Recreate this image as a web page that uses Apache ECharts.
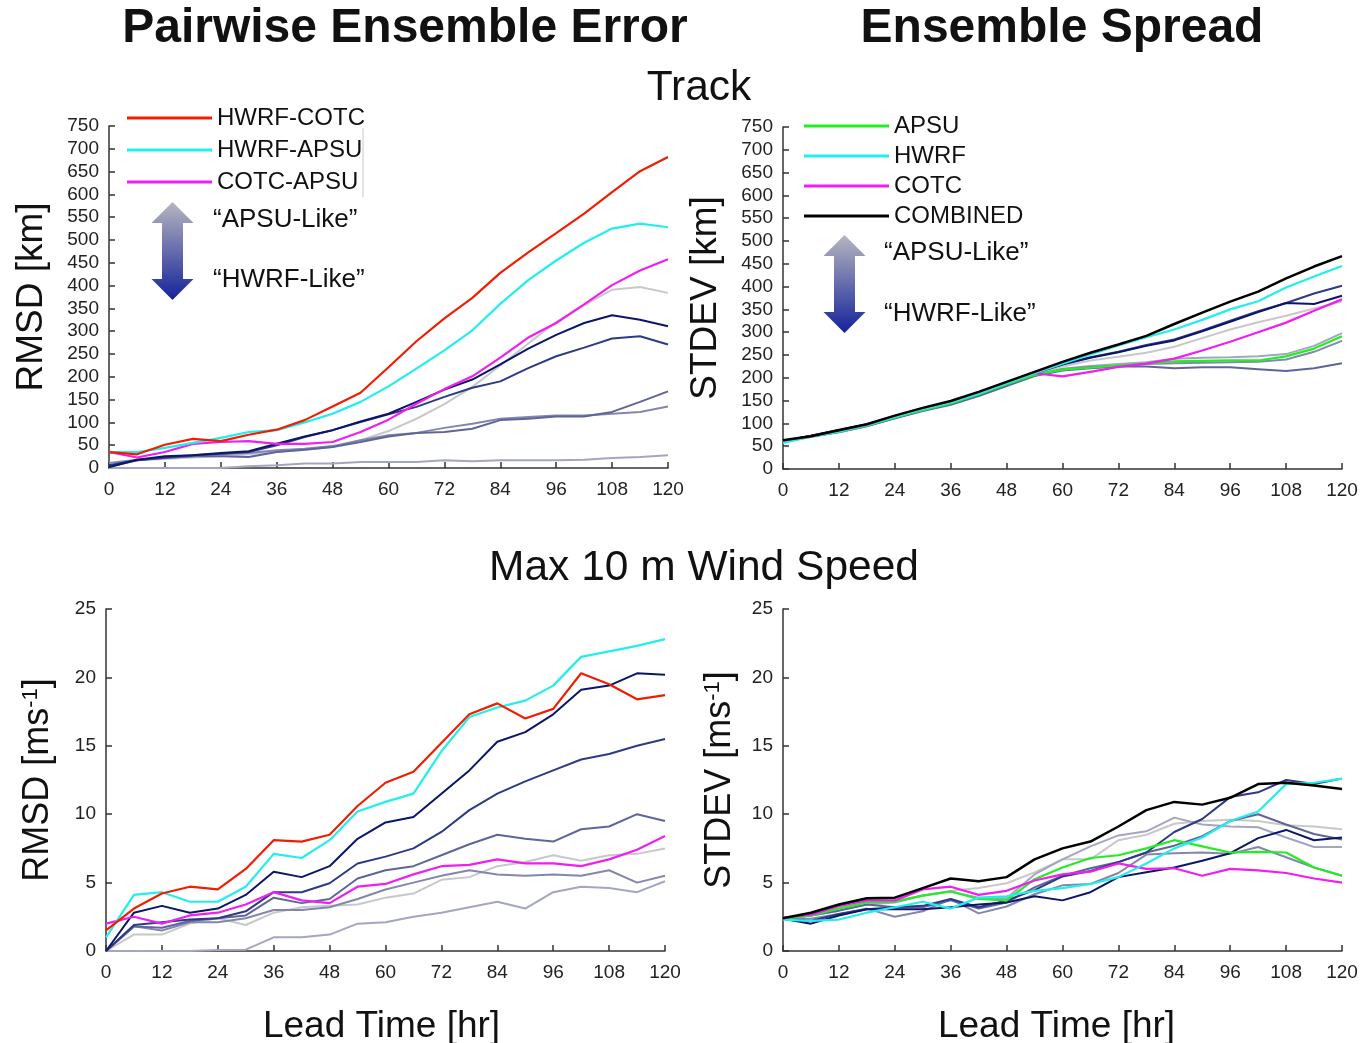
<!DOCTYPE html>
<html>
<head>
<meta charset="utf-8">
<title>Pairwise Ensemble Error / Ensemble Spread</title>
<script src="https://cdn.jsdelivr.net/npm/echarts@6.0.0/dist/echarts.min.js"></script>
<style>
  html, body { margin: 0; padding: 0; background: #fff; }
  #chart { width: 1367px; height: 1043px; }
</style>
</head>
<body>
<div id="chart"></div>
<script>
// lead times (hr)
var hours = [0, 6, 12, 18, 24, 30, 36, 42, 48, 54, 60, 66, 72, 78, 84, 90, 96, 102, 108, 114, 120];

// ---- Track, pairwise RMSD [km]
var trackErrHwrfCotc = [35, 30, 51, 64, 59, 73, 84, 105, 135, 165, 221, 278, 328, 373, 428, 473, 515, 558, 605, 651, 682];
var trackErrHwrfApsu = [35, 35, 44, 55, 66, 79, 83, 100, 119, 145, 179, 218, 258, 302, 360, 412, 455, 494, 525, 536, 528];
var trackErrCotcApsu = [35, 23, 35, 53, 57, 59, 53, 53, 57, 79, 106, 141, 173, 201, 242, 286, 318, 359, 401, 433, 458];
var trackErrMix1 = [2, 17, 20, 23, 26, 30, 35, 40, 46, 61, 81, 108, 140, 178, 225, 273, 320, 357, 391, 397, 384];
var trackErrMix2 = [0, 0, 0, 0, 0, 4, 6, 10, 10, 13, 13, 13, 17, 15, 17, 17, 17, 18, 22, 24, 28];
var trackErrMix3 = [11, 18, 22, 26, 30, 33, 39, 42, 48, 61, 72, 77, 88, 97, 108, 112, 115, 115, 119, 123, 135];
var trackErrMix4 = [2, 17, 22, 26, 26, 24, 35, 40, 46, 57, 69, 77, 79, 86, 105, 108, 113, 113, 123, 145, 168];
var trackErrMix5 = [6, 17, 23, 28, 31, 35, 50, 68, 83, 101, 118, 134, 156, 176, 190, 219, 245, 264, 284, 289, 271];
var trackErrMix6 = [2, 18, 26, 28, 33, 37, 53, 69, 83, 102, 119, 145, 172, 194, 227, 262, 292, 318, 335, 325, 311];

// ---- Track, spread STDEV [km]
var trackSprApsu = [60, 71, 82, 95, 113, 129, 144, 164, 186, 206, 218, 222, 227, 231, 236, 237, 238, 238, 247, 264, 291];
var trackSprHwrf = [57, 71, 82, 96, 114, 131, 146, 165, 188, 210, 231, 251, 271, 289, 306, 327, 350, 368, 398, 422, 445];
var trackSprCotc = [62, 72, 83, 96, 115, 131, 147, 168, 190, 210, 203, 213, 224, 231, 242, 260, 279, 300, 321, 347, 372];
var trackSprCombined = [63, 72, 85, 98, 117, 134, 149, 169, 191, 213, 235, 255, 273, 292, 318, 343, 367, 389, 418, 444, 467];
var trackSprMix1 = [60, 70, 80, 93, 111, 128, 143, 163, 186, 208, 225, 238, 246, 255, 268, 287, 306, 322, 336, 352, 367];
var trackSprMix2 = [60, 71, 81, 94, 112, 129, 144, 164, 186, 207, 220, 226, 230, 234, 242, 244, 245, 247, 252, 270, 298];
var trackSprMix3 = [60, 71, 81, 94, 112, 128, 143, 163, 185, 206, 219, 224, 226, 230, 232, 233, 234, 235, 240, 257, 281];
var trackSprMix4 = [60, 71, 81, 94, 111, 127, 141, 160, 182, 204, 216, 221, 225, 225, 221, 223, 223, 219, 215, 221, 232];
var trackSprMix5 = [61, 73, 86, 98, 116, 132, 147, 167, 189, 211, 230, 245, 257, 272, 284, 304, 325, 346, 364, 385, 402];
var trackSprMix6 = [61, 73, 85, 97, 115, 131, 146, 166, 188, 210, 229, 244, 256, 270, 282, 302, 323, 344, 364, 362, 380];

// ---- Max 10 m wind, pairwise RMSD [m/s]
var windErrHwrfCotc = [1.5, 3.1, 4.2, 4.7, 4.5, 6.0, 8.1, 8.0, 8.5, 10.6, 12.3, 13.1, 15.2, 17.3, 18.1, 17.0, 17.7, 20.3, 19.5, 18.4, 18.7];
var windErrHwrfApsu = [1.0, 4.1, 4.3, 3.6, 3.6, 4.7, 7.1, 6.8, 8.1, 10.2, 10.9, 11.5, 14.6, 17.1, 17.8, 18.3, 19.4, 21.5, 21.9, 22.3, 22.8];
var windErrCotcApsu = [2.0, 2.5, 2.0, 2.6, 2.8, 3.4, 4.3, 3.7, 3.5, 4.7, 4.9, 5.6, 6.2, 6.3, 6.7, 6.4, 6.4, 6.2, 6.7, 7.4, 8.4];
var windErrMix1 = [0, 1.2, 1.2, 2.0, 2.4, 1.9, 2.8, 3.2, 3.3, 3.4, 3.9, 4.2, 5.2, 5.4, 6.2, 6.5, 7.0, 6.6, 7.0, 7.1, 7.5];
var windErrMix2 = [0, 0, 0, 0, 0.07, 0.1, 1.0, 1.0, 1.2, 2.0, 2.1, 2.5, 2.8, 3.2, 3.6, 3.1, 4.3, 4.7, 4.6, 4.3, 5.1];
var windErrMix3 = [0, 1.8, 1.5, 2.1, 2.1, 2.4, 3.0, 3.0, 3.2, 3.8, 4.5, 5.0, 5.5, 5.9, 5.6, 5.5, 5.6, 5.5, 5.9, 5.0, 5.5];
var windErrMix4 = [0, 1.8, 1.7, 2.2, 2.4, 2.6, 3.9, 3.5, 3.8, 5.3, 5.9, 6.2, 7.0, 7.8, 8.5, 8.2, 8.0, 8.9, 9.1, 10.0, 9.5];
var windErrMix5 = [0, 1.9, 2.1, 2.3, 2.4, 2.9, 4.3, 4.3, 4.95, 6.4, 6.9, 7.5, 8.7, 10.3, 11.5, 12.4, 13.2, 14.0, 14.4, 15.0, 15.5];
var windErrMix6 = [0, 2.8, 3.3, 2.8, 3.1, 4.1, 5.8, 5.4, 6.2, 8.2, 9.4, 9.8, 11.5, 13.2, 15.3, 16.0, 17.3, 19.1, 19.4, 20.3, 20.2];

// ---- Max 10 m wind, spread STDEV [m/s]
var windSprApsu = [2.35, 2.6, 3.1, 3.55, 3.6, 4.05, 4.35, 3.8, 3.7, 5.25, 6.1, 6.8, 7.0, 7.5, 8.1, 7.65, 7.2, 7.25, 7.2, 6.1, 5.5];
var windSprHwrf = [2.3, 2.2, 2.3, 2.8, 3.2, 3.6, 3.1, 3.9, 4.0, 4.4, 4.6, 4.9, 5.4, 6.4, 7.5, 8.3, 9.5, 10.2, 12.2, 12.3, 12.6];
var windSprCotc = [2.45, 2.65, 3.3, 3.7, 3.7, 4.5, 4.7, 4.1, 4.4, 5.15, 5.6, 5.8, 6.4, 6.0, 6.05, 5.5, 6.0, 5.9, 5.7, 5.3, 5.0];
var windSprCombined = [2.4, 2.8, 3.4, 3.85, 3.9, 4.6, 5.3, 5.1, 5.4, 6.7, 7.5, 8.0, 9.1, 10.3, 10.9, 10.7, 11.2, 12.2, 12.3, 12.1, 11.85];
var windSprMix1 = [2.35, 2.7, 3.2, 3.7, 3.7, 4.05, 4.4, 4.6, 4.95, 5.75, 6.7, 6.7, 8.1, 8.5, 9.3, 9.5, 9.6, 9.5, 9.2, 9.1, 8.9];
var windSprMix2 = [2.35, 2.6, 2.95, 3.4, 3.55, 4.05, 4.35, 3.9, 3.85, 5.6, 6.7, 7.65, 8.45, 8.75, 9.75, 9.25, 9.1, 9.05, 8.3, 7.6, 7.6];
var windSprMix3 = [2.35, 2.35, 2.7, 3.1, 2.5, 2.9, 3.8, 2.75, 3.25, 4.15, 4.8, 4.9, 5.7, 7.05, 7.15, 7.2, 7.1, 7.6, 6.85, 6.1, 5.5];
var windSprMix4 = [2.35, 2.6, 2.95, 3.4, 3.2, 3.2, 3.7, 3.1, 3.55, 4.65, 5.5, 6.05, 6.5, 7.2, 7.7, 8.4, 9.5, 10.0, 9.25, 8.55, 8.15];
var windSprMix5 = [2.35, 2.2, 2.7, 3.05, 3.2, 3.3, 3.8, 3.2, 3.7, 4.45, 5.45, 5.85, 6.5, 7.2, 8.7, 9.65, 11.25, 11.6, 12.5, 12.2, 12.6];
var windSprMix6 = [2.35, 2.0, 2.6, 3.05, 3.05, 3.05, 3.2, 3.4, 3.55, 4.0, 3.7, 4.3, 5.4, 5.75, 6.1, 6.6, 7.15, 8.25, 8.85, 8.1, 8.3];

// shades from "APSU-like" (light grey) to "HWRF-like" (navy)
var mixColors = ["#c8c8cb", "#a3a6c0", "#8387ad", "#5f659b", "#2e3a86", "#0c1668"];

var FONT = "'Liberation Sans', Arial, Helvetica, sans-serif";

var dom = document.getElementById("chart");
var chart = echarts.init(dom, null, { renderer: "canvas" });

function pairs(vals) {
  return vals.map(function (v, i) {
    return [hours[i], v];
  });
}

function lineSeries(name, vals, color, idx, width) {
  return {
    name: name,
    type: "line",
    xAxisIndex: idx,
    yAxisIndex: idx,
    data: pairs(vals),
    symbol: "none",
    showSymbol: false,
    silent: true,
    lineStyle: { color: color, width: width || 2 },
    itemStyle: { color: color },
  };
}

function mixSeries(list, idx) {
  return list.map(function (vals, k) {
    return lineSeries("mix" + (k + 1), vals, mixColors[k], idx, 2);
  });
}

// panel boxes (outerBoundsMode none: keep them fixed even when names spill)
var grids = [
  { left: 109, top: 126, width: 559, height: 342, outerBoundsMode: "none" },
  { left: 783, top: 127, width: 559, height: 342, outerBoundsMode: "none" },
  { left: 106, top: 609, width: 559, height: 342, outerBoundsMode: "none" },
  { left: 783, top: 609, width: 559, height: 342, outerBoundsMode: "none" },
];

function xAxisFor(idx, withName, shift) {
  return {
    type: "value",
    gridIndex: idx,
    min: 0,
    max: 120,
    interval: 12,
    name: withName ? "Lead Time [hr]" : "",
    nameLocation: "middle",
    nameGap: 57,
    nameTextStyle: {
      fontSize: 37,
      color: "#111",
      fontFamily: FONT,
      padding: [0, shift || 0, 0, 0],
    },
    axisLine: { show: true, lineStyle: { color: "#333", width: 1.5 } },
    axisTick: { show: true, inside: true, length: 6, lineStyle: { color: "#333", width: 1.5 } },
    axisLabel: { fontSize: 19, color: "#222", margin: 12, fontFamily: FONT },
    splitLine: { show: false },
  };
}

function yAxisFor(idx, max, interval, name, gap, rich) {
  var ax = {
    type: "value",
    gridIndex: idx,
    min: 0,
    max: max,
    interval: interval,
    name: name,
    nameLocation: "middle",
    nameGap: gap,
    nameTextStyle: { fontSize: 37, color: "#111", fontFamily: FONT },
    axisLine: { show: true, lineStyle: { color: "#333", width: 1.5 } },
    axisTick: { show: true, inside: true, length: 6, lineStyle: { color: "#333", width: 1.5 } },
    axisLabel: { fontSize: 19, color: "#222", margin: 10, fontFamily: FONT },
    splitLine: { show: false },
  };
  if (rich) {
    ax.nameTextStyle.rich = {
      n: { fontSize: 36, color: "#111", fontFamily: FONT },
      s: { fontSize: 22, color: "#111", fontFamily: FONT, verticalAlign: "top" },
    };
  }
  return ax;
}

var series = []
  .concat(mixSeries([trackErrMix1, trackErrMix2, trackErrMix3, trackErrMix4, trackErrMix5, trackErrMix6], 0))
  .concat([
    lineSeries("COTC-APSU", trackErrCotcApsu, "#f01ef0", 0, 2.2),
    lineSeries("HWRF-APSU", trackErrHwrfApsu, "#22eeee", 0, 2.2),
    lineSeries("HWRF-COTC", trackErrHwrfCotc, "#f01e00", 0, 2.2),
  ])
  .concat(mixSeries([trackSprMix1, trackSprMix2, trackSprMix3, trackSprMix4, trackSprMix5, trackSprMix6], 1))
  .concat([
    lineSeries("APSU", trackSprApsu, "#22ee22", 1, 2.2),
    lineSeries("COTC", trackSprCotc, "#f01ef0", 1, 2.2),
    lineSeries("HWRF", trackSprHwrf, "#22eeee", 1, 2.2),
    lineSeries("COMBINED", trackSprCombined, "#000000", 1, 2.5),
  ])
  .concat(mixSeries([windErrMix1, windErrMix2, windErrMix3, windErrMix4, windErrMix5, windErrMix6], 2))
  .concat([
    lineSeries("COTC-APSU", windErrCotcApsu, "#f01ef0", 2, 2.2),
    lineSeries("HWRF-APSU", windErrHwrfApsu, "#22eeee", 2, 2.2),
    lineSeries("HWRF-COTC", windErrHwrfCotc, "#f01e00", 2, 2.2),
  ])
  .concat(mixSeries([windSprMix1, windSprMix2, windSprMix3, windSprMix4, windSprMix5, windSprMix6], 3))
  .concat([
    lineSeries("APSU", windSprApsu, "#22ee22", 3, 2.2),
    lineSeries("COTC", windSprCotc, "#f01ef0", 3, 2.2),
    lineSeries("HWRF", windSprHwrf, "#22eeee", 3, 2.2),
    lineSeries("COMBINED", windSprCombined, "#000000", 3, 2.5),
  ]);

function arrowPoints(cx, top, bottom) {
  // double-headed vertical arrow
  var hw = 21, sw = 10.5, hh = 21;
  return [
    [cx, top], [cx + hw, top + hh], [cx + sw, top + hh],
    [cx + sw, bottom - hh], [cx + hw, bottom - hh], [cx, bottom],
    [cx - hw, bottom - hh], [cx - sw, bottom - hh], [cx - sw, top + hh],
    [cx - hw, top + hh],
  ];
}

function arrowGraphic(cx, top, bottom) {
  return {
    type: "polygon",
    shape: { points: arrowPoints(cx, top, bottom) },
    style: {
      fill: new echarts.graphic.LinearGradient(0, 0, 0, 1, [
        { offset: 0, color: "#b6b6bf" },
        { offset: 1, color: "#14229a" },
      ]),
    },
    silent: true,
  };
}

function textGraphic(text, x, y, size, weight, align) {
  return {
    type: "text",
    x: x,
    y: y,
    silent: true,
    style: {
      text: text,
      fill: "#111",
      font: (weight || "normal") + " " + size + "px " + FONT,
      align: align || "center",
      textAlign: align || "center",
      verticalAlign: "middle",
      textVerticalAlign: "middle",
    },
  };
}

function legendFor(names, left, top, gap) {
  return {
    data: names,
    orient: "vertical",
    left: left,
    top: top,
    padding: 0,
    icon: "rect",
    itemWidth: 85,
    itemHeight: 3,
    itemGap: gap,
    selectedMode: false,
    textStyle: { fontSize: 24, color: "#111", fontFamily: FONT, lineHeight: 22 },
  };
}

var option = {
  backgroundColor: "#ffffff",
  animation: false,
  textStyle: { fontFamily: FONT },
  grid: grids,
  xAxis: [xAxisFor(0, false), xAxisFor(1, false), xAxisFor(2, true, 8), xAxisFor(3, true, 12)],
  yAxis: [
    yAxisFor(0, 750, 50, "RMSD [km]", 59),
    yAxisFor(1, 750, 50, "STDEV [km]", 59),
    yAxisFor(2, 25, 5, "{n|RMSD [ms}{s|-1}{n|]}", 50, true),
    yAxisFor(3, 25, 5, "{n|STDEV [ms}{s|-1}{n|]}", 45, true),
  ],
  legend: [
    legendFor(["HWRF-COTC", "HWRF-APSU", "COTC-APSU"], 127, 106, 8),
    legendFor(["APSU", "HWRF", "COTC", "COMBINED"], 804, 114, 6),
  ],
  graphic: {
    elements: [
      textGraphic("Pairwise Ensemble Error", 405, 29, 48, "bold"),
      textGraphic("Ensemble Spread", 1062, 29, 48, "bold"),
      textGraphic("Track", 699, 88, 42.5),
      textGraphic("Max 10 m Wind Speed", 704, 568, 42.5),
      {
        type: "line",
        shape: { x1: 363, y1: 128, x2: 363, y2: 197 },
        style: { stroke: "#c8c8c8", lineWidth: 1 },
        silent: true,
      },
      arrowGraphic(172.5, 202, 300),
      textGraphic("\u201cAPSU-Like\u201d", 213, 220, 26, "normal", "left"),
      textGraphic("\u201cHWRF-Like\u201d", 213, 280, 26, "normal", "left"),
      arrowGraphic(844.5, 235, 333),
      textGraphic("\u201cAPSU-Like\u201d", 884, 253, 26, "normal", "left"),
      textGraphic("\u201cHWRF-Like\u201d", 884, 314, 26, "normal", "left"),
    ],
  },
  series: series,
};

chart.setOption(option);
</script>
</body>
</html>
